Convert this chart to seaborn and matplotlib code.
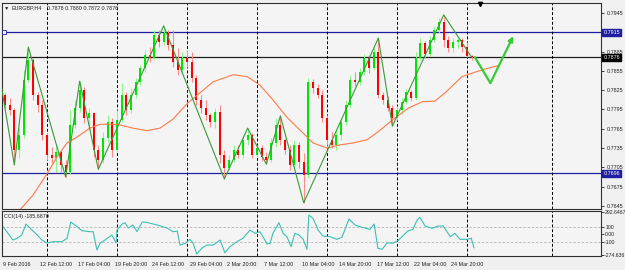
import numpy as np
import pandas as pd
import matplotlib
matplotlib.use('Agg')
import matplotlib.pyplot as plt
import matplotlib.transforms as mtransforms
import seaborn as sns

# Свечи EURGBP (по 8 часов), индекс свечи = позиция по оси X
open_first = 0.7818
close = [0.7802, 0.7794, 0.7732, 0.7755, 0.7841, 0.7872, 0.7818, 0.7802, 0.7755, 0.7724,
         0.7720, 0.7729, 0.7709, 0.7698, 0.7771, 0.7797, 0.7825, 0.7782, 0.7790, 0.7732,
         0.7716, 0.7751, 0.7776, 0.7732, 0.7779, 0.7818, 0.7794, 0.7818, 0.7838, 0.7860,
         0.7880, 0.7875, 0.7911, 0.7900, 0.7914, 0.7895, 0.7869, 0.7856, 0.7875, 0.7869,
         0.7844, 0.7810, 0.7797, 0.7786, 0.7776, 0.7791, 0.7724, 0.7704, 0.7716, 0.7732,
         0.7724, 0.7748, 0.7755, 0.7724, 0.7735, 0.7721, 0.7716, 0.7743, 0.7771, 0.7748,
         0.7732, 0.7709, 0.7740, 0.7713, 0.7693, 0.7838, 0.7828, 0.7818, 0.7782, 0.7748,
         0.7740, 0.7755, 0.7776, 0.7802, 0.7841, 0.7838, 0.7853, 0.7875, 0.7860, 0.7884,
         0.7818, 0.7810, 0.7797, 0.7782, 0.7794, 0.7807, 0.7822, 0.7813, 0.7875, 0.7898,
         0.7881, 0.7903, 0.7919, 0.7931, 0.7903, 0.7891, 0.7900, 0.7903, 0.7892, 0.7878,
         0.7876]
high = [0.7821, 0.7813, 0.7797, 0.7766, 0.7856, 0.7892, 0.7875, 0.7822, 0.7810, 0.7758,
        0.7737, 0.7740, 0.7732, 0.7716, 0.7794, 0.7810, 0.7839, 0.7830, 0.7797, 0.7791,
        0.7740, 0.7760, 0.7786, 0.7782, 0.7794, 0.7836, 0.7822, 0.7828, 0.7844, 0.7864,
        0.7887, 0.7892, 0.7919, 0.7919, 0.7925, 0.7918, 0.7919, 0.7891, 0.7884, 0.7887,
        0.7884, 0.7849, 0.7818, 0.7810, 0.7790, 0.7797, 0.7802, 0.7732, 0.7724, 0.7740,
        0.7740, 0.7754, 0.7766, 0.7758, 0.7740, 0.7740, 0.7729, 0.7751, 0.7782, 0.7785,
        0.7751, 0.7740, 0.7748, 0.7744, 0.7727, 0.7844, 0.7842, 0.7835, 0.7825, 0.7786,
        0.7760, 0.7763, 0.7782, 0.7810, 0.7849, 0.7853, 0.7860, 0.7881, 0.7880, 0.7891,
        0.7906, 0.7822, 0.7816, 0.7802, 0.7800, 0.7813, 0.7827, 0.7825, 0.7884, 0.7906,
        0.7902, 0.7909, 0.7925, 0.7937, 0.7942, 0.7909, 0.7906, 0.7908, 0.7906, 0.7900,
        0.7880]
low = [0.7797, 0.7786, 0.7709, 0.7720, 0.7751, 0.7838, 0.7810, 0.7791, 0.7748, 0.7716,
       0.7712, 0.7698, 0.7698, 0.7690, 0.7695, 0.7766, 0.7791, 0.7774, 0.7768, 0.7721,
       0.7702, 0.7712, 0.7744, 0.7721, 0.7729, 0.7776, 0.7786, 0.7790, 0.7813, 0.7833,
       0.7853, 0.7869, 0.7872, 0.7892, 0.7895, 0.7887, 0.7861, 0.7849, 0.7853, 0.7861,
       0.7838, 0.7802, 0.7790, 0.7779, 0.7768, 0.7766, 0.7712, 0.7687, 0.7701, 0.7713,
       0.7720, 0.7720, 0.7740, 0.7720, 0.7721, 0.7715, 0.7710, 0.7713, 0.7737, 0.7740,
       0.7726, 0.7701, 0.7704, 0.7704, 0.7650, 0.7689, 0.7821, 0.7813, 0.7776, 0.7740,
       0.7735, 0.7732, 0.7748, 0.7771, 0.7797, 0.7832, 0.7833, 0.7849, 0.7852, 0.7856,
       0.7813, 0.7804, 0.7793, 0.7769, 0.7779, 0.7788, 0.7804, 0.7808, 0.7810, 0.7872,
       0.7875, 0.7878, 0.7900, 0.7914, 0.7892, 0.7884, 0.7884, 0.7891, 0.7884, 0.7877,
       0.7872]

# ZigZag (вершины)
zz_idx = [-1, 2, 5, 13, 16, 20, 34, 47, 52, 56, 59, 64, 80, 83, 94, 100]
zz_price = [0.7841, 0.7709, 0.7892, 0.7690, 0.7839, 0.7702, 0.7925, 0.7687, 0.7766,
            0.7710, 0.7785, 0.7650, 0.7906, 0.7769, 0.7942, 0.7876]

# Скользящая средняя (со сдвигом вперёд)
ma_idx = [3.2, 6.0, 9.0, 11.4, 13.3, 15.4, 18.2, 20.4, 22.5, 24.6, 27.4, 30.4, 33.2, 36.0,
          39.0, 41.8, 44.6, 48.9, 51.9, 54.6, 57.4, 60.4, 63.2, 66.0, 69.0, 71.8, 74.6,
          77.6, 80.4, 83.1, 86.4, 89.4, 92.1, 94.3, 97.9, 100.7, 102.9, 105.6]
ma_price = [0.7639, 0.7662, 0.7695, 0.7724, 0.7743, 0.7752, 0.7766, 0.7772, 0.7772, 0.7771,
            0.7766, 0.7762, 0.7766, 0.7780, 0.7804, 0.7821, 0.7838, 0.7849, 0.7846, 0.7833,
            0.7810, 0.7783, 0.7763, 0.7743, 0.7735, 0.7740, 0.7743, 0.7748, 0.7763, 0.7779,
            0.7797, 0.7807, 0.7808, 0.7821, 0.7846, 0.7853, 0.7858, 0.7863]

# CCI(14)
cci_idx = [-0.4, 0.4, 1.7, 2.6, 3.6, 4.5, 5.8, 6.9, 7.9, 9.0, 10.3, 12.2, 13.3, 14.1, 15.0,
           16.5, 18.2, 18.9, 19.1, 19.7, 20.4, 21.2, 21.9, 22.9, 23.8, 24.0, 25.1, 25.7,
           26.4, 27.4, 28.3, 29.4, 30.4, 32.6, 34.7, 36.0, 36.9, 37.5, 38.6, 39.6, 40.3,
           41.1, 42.2, 43.3, 44.6, 46.1, 47.1, 48.2, 49.7, 51.0, 52.5, 53.6, 54.6, 55.7,
           56.1, 56.8, 57.4, 58.7, 59.6, 60.4, 61.3, 62.1, 63.0, 63.9, 64.7, 65.1, 66.0,
           67.1, 68.1, 69.6, 71.1, 72.2, 73.7, 75.0, 76.5, 78.2, 79.1, 79.9, 80.8, 81.9,
           83.1, 84.2, 86.3, 87.4, 88.3, 88.9, 90.0, 91.5, 92.8, 93.9, 95.4, 96.4, 97.5,
           99.0, 99.9, 100.5]
cci_val = [97, 31, -80, -57, -13, 133, 53, -13, -80, -120, -102, -102, -57, 160, 120,
           44, 31, 31, -35, -213, -120, -89, -57, -13, -120, 53, 133, 151, 80, 120,
           31, 160, 155, 120, 80, 31, 40, -147, -124, -71, -120, -267, -187, -147, -147,
           -80, -249, -169, -102, -57, 53, 9, 31, -80, -133, -124, 9, 151, 9, -35,
           -169, 9, -13, -71, -204, 253, 209, 53, -27, -35, -71, -44, 200, 120, 89,
           62, 133, -191, -204, -116, -124, -89, 40, 62, 187, 222, 107, 76, 107, 107,
           -35, 9, -71, -71, -57, -185.687]
cci_top, cci_bottom = 292.6467, -274.636

# Уровни и разметка
blue_levels = [0.7915, 0.7696]
bid_level = 0.7876
price_ticks = [0.7645, 0.7675, 0.7705, 0.7735, 0.7765, 0.7795, 0.7825, 0.7855, 0.7885,
               0.7915, 0.7945]
week_lines = [9, 24, 39, 54, 69, 84, 99, 117.2]
time_pos = [-0.4, 7.6, 15.6, 23.6, 31.6, 39.6, 47.6, 55.6, 63.6, 71.6, 79.6, 87.6, 95.6]
time_labels = ['9 Feb 2016', '12 Feb 12:00', '17 Feb 04:00', '19 Feb 20:00', '24 Feb 12:00',
               '29 Feb 04:00', '2 Mar 20:00', '7 Mar 12:00', '10 Mar 04:00', '14 Mar 20:00',
               '17 Mar 12:00', '22 Mar 04:00', '24 Mar 20:00']
# прогноз (нарисованная стрелка)
arrow_idx = [100.7, 104.0, 108.9]
arrow_price = [0.7876, 0.7836, 0.7909]
shift_idx = 101.8

sns.set_style('white')
plt.rcParams['font.family'] = ['Liberation Sans', 'DejaVu Sans']
fs = 3.9

fig = plt.figure(figsize=(6.25, 2.70), dpi=100, facecolor='#F0F0F0')
ax = fig.add_axes([2 / 625, 1 - 209 / 270, 599 / 625, 206 / 270], facecolor='#F4F4F4')
ax2 = fig.add_axes([2 / 625, 1 - 256 / 270, 599 / 625, 45 / 270], facecolor='#F4F4F4', sharex=ax)

# Свечи
df = pd.DataFrame({'c': close, 'h': high, 'l': low})
df['o'] = [open_first] + close[:-1]
df['k'] = np.arange(len(df))
up = df['c'] >= df['o']
ax.vlines(df['k'], df['l'], df['h'], colors=np.where(up, '#8CF58C', '#FF8C8C'), lw=0.8, zorder=2)
body = (df['c'] - df['o']).abs().clip(lower=0.00008)
ax.bar(df['k'], body, bottom=df[['o', 'c']].min(axis=1), width=0.42,
       color=np.where(up, '#00E600', '#FF0000'), lw=0, zorder=3)

# Индикаторы
sns.lineplot(x=ma_idx, y=ma_price, ax=ax, color='#FF7A45', lw=0.8, sort=False, estimator=None, zorder=4)
sns.lineplot(x=zz_idx, y=zz_price, ax=ax, color='#3A9A3A', lw=0.8, sort=False, estimator=None, zorder=5)

# Горизонтальные линии
for p in blue_levels:
    ax.axhline(p, color='#1E1EA0', lw=0.9, zorder=1)
ax.axhline(bid_level, color='#202020', lw=0.9, zorder=1)
tr = mtransforms.blended_transform_factory(ax.transAxes, ax.transData)
ax.plot([0.004], [blue_levels[0]], transform=tr, marker='s', ms=2.4, mfc='#F4F4F4',
        mec='#1E1EA0', mew=0.6, zorder=6)

# Недельные разделители
for w in week_lines:
    ax.axvline(w, color='black', ls=(0, (3, 2)), lw=0.7, zorder=1)
    ax2.axvline(w, color='black', ls=(0, (3, 2)), lw=0.7, zorder=1)

# Стрелка прогноза
ax.plot(arrow_idx[:2], arrow_price[:2], color='#33CC33', lw=1.6, solid_capstyle='round', zorder=6)
ax.annotate('', xy=(arrow_idx[2], arrow_price[2]), xytext=(arrow_idx[1], arrow_price[1]),
            arrowprops=dict(arrowstyle='-|>', color='#33CC33', lw=1.6, mutation_scale=7,
                            shrinkA=0, shrinkB=0), zorder=6)

ax.plot([shift_idx], [0.995], transform=mtransforms.blended_transform_factory(ax.transData, ax.transAxes),
        marker='v', ms=3, color='black', zorder=7, clip_on=False)

ax.set_xlim(-0.64, 127.7)
ax.set_ylim(0.76403, 0.79605)
ax.yaxis.tick_right()
ax.set_yticks(price_ticks)
# метка 0.7915 закрыта плашкой уровня
ax.set_yticklabels(['' if t in blue_levels else f'{t:.4f}' for t in price_ticks])
ax.tick_params(axis='y', direction='out', length=2.5, width=0.6, labelsize=fs, pad=1.5, colors='#202020')
ax.tick_params(axis='x', bottom=False, labelbottom=False)
ax.set_xlabel('')
ax.set_ylabel('')

for p, fc in [(blue_levels[0], '#1E1EA0'), (bid_level, '#000000'), (blue_levels[1], '#1E1EA0')]:
    ax.text(1.004, p, f'{p:.4f}', transform=tr, fontsize=fs, color='white', va='center', ha='left',
            bbox=dict(boxstyle='square,pad=0.2', fc=fc, ec=fc), zorder=8)

# CCI
sns.lineplot(x=cci_idx, y=cci_val, ax=ax2, color='#3CC0B4', lw=0.8, sort=False, estimator=None)
for lv in [100, -100]:
    ax2.axhline(lv, color='#B4B4B4', ls=(0, (3, 2)), lw=0.6, zorder=0)
ax2.set_ylim(-293, 307)
ax2.yaxis.tick_right()
cci_ticks = [cci_bottom, -100, 0, 100, cci_top]
ax2.set_yticks(cci_ticks)
ax2.set_yticklabels([f'{cci_bottom}', '-100', '0.00', '100', f'{cci_top}'])
ax2.tick_params(axis='y', direction='out', length=2.0, width=0.6, labelsize=3.7, pad=1.0, colors='#202020')
ax2.set_xticks(time_pos)
ax2.set_xticklabels(time_labels)
for lbl in ax2.get_xticklabels():
    lbl.set_ha('left')
ax2.tick_params(axis='x', direction='out', length=2.5, width=0.6, labelsize=fs, pad=1.5, colors='#202020')
ax2.set_xlabel('')
ax2.set_ylabel('')
ax2.text(0.003, 0.93, f'CCI(14) {cci_val[-1]:.4f}', transform=ax2.transAxes, fontsize=fs,
         va='top', ha='left', color='#202020')

for a in (ax, ax2):
    for s in a.spines.values():
        s.set_color('#303030')
        s.set_linewidth(0.8)

# Заголовок
hdr = f'{df["o"].iloc[-1]:.4f} {high[-1]:.4f} {low[-1]:.4f} {close[-1]:.4f}'
fig.text(4 / 625, 1 - 8 / 270, '▼', fontsize=fs, va='center', ha='left', color='#202020')
fig.text(12 / 625, 1 - 8 / 270, 'EURGBP,H4', fontsize=fs, va='center', ha='left', color='#202020')
fig.text(47 / 625, 1 - 8 / 270, hdr, fontsize=fs, va='center', ha='left', color='#202020')

fig.savefig('out.png', dpi=100, facecolor=fig.get_facecolor())
